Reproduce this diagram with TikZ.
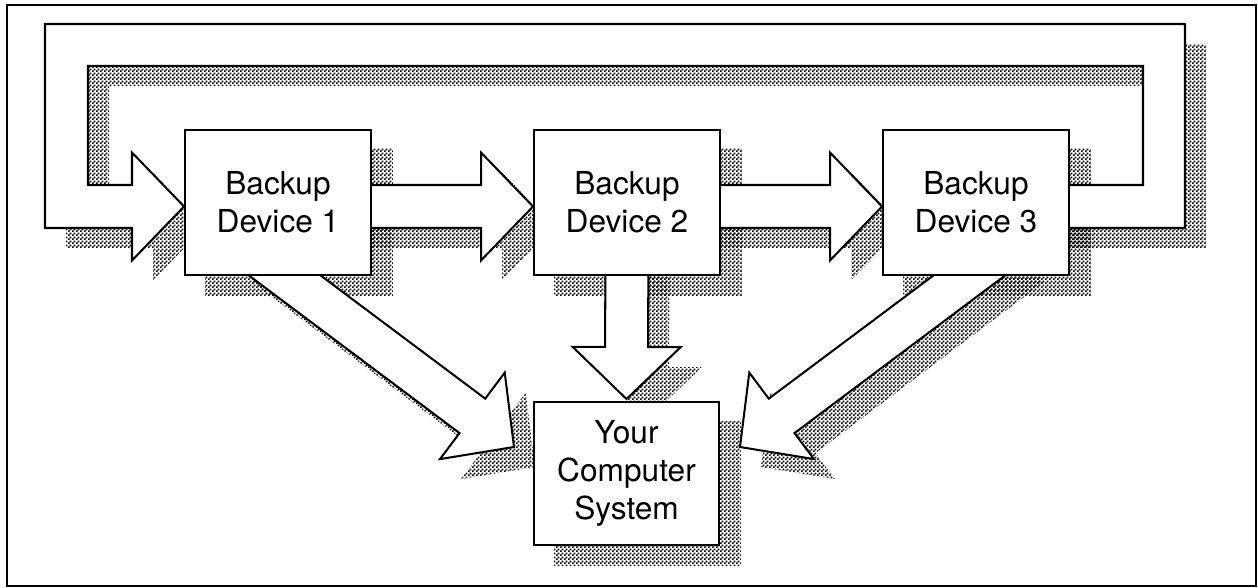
\documentclass[tikz,border=0pt]{standalone}
\usepackage{fontspec}
\setmainfont{TeX Gyre Heros}
\usetikzlibrary{calc,patterns}
\pgfdeclarepatternformonly{checkerdots}{\pgfqpoint{0pt}{0pt}}{\pgfqpoint{2.28pt}{2.28pt}}{\pgfqpoint{2.28pt}{2.28pt}}{%
  \pgfpathrectangle{\pgfqpoint{0pt}{0pt}}{\pgfqpoint{1.2pt}{1.2pt}}%
  \pgfpathrectangle{\pgfqpoint{1.14pt}{1.14pt}}{\pgfqpoint{1.2pt}{1.2pt}}%
  \pgfusepath{fill}}
\pgfdeclarelayer{bglayer}
\pgfdeclarelayer{shadowlayer}
\pgfdeclarelayer{arrowlayer}
\pgfsetlayers{bglayer,shadowlayer,arrowlayer,main}
\tikzset{
  devbox/.style={draw=black, fill=white, line width=1.15pt, minimum width=3.72cm,
    minimum height=2.9cm, align=center, inner sep=0pt,
    font=\fontsize{18}{21.5}\selectfont},
  shadowfill/.style={pattern=checkerdots, pattern color=black},
  blockshape/.style={draw=black, fill=white, line width=1.15pt, line join=miter},
  framestyle/.style={draw=black, line width=1.1pt},
}
\newcommand\withshadow[1]{%
  \begin{pgfonlayer}{shadowlayer}
    \begin{scope}[transform canvas={shift={(0.42cm,-0.4cm)}}]
      \fill[shadowfill] #1;
    \end{scope}
  \end{pgfonlayer}
  \begin{pgfonlayer}{arrowlayer}
    \path[blockshape] #1;
  \end{pgfonlayer}}
\newcommand\blockarrow[2]{%
  \coordinate (hb) at ($(#2)!1.04cm!(#1)$);
  \withshadow{($(#1)!0.43cm!90:(#2)$) -- ($(hb)!0.43cm!90:(#2)$) -- ($(hb)!1.08cm!90:(#2)$) -- (#2) -- ($(hb)!1.08cm!-90:(#2)$) -- ($(hb)!0.43cm!-90:(#2)$) -- ($(#1)!0.43cm!-90:(#2)$) -- cycle}}
\begin{document}
\begin{tikzpicture}[x=0.02cm, y=-0.02cm]
\useasboundingbox (0,0) rectangle (1258,588);
\begin{pgfonlayer}{bglayer}
  \fill[white] (0,0) rectangle (1258,588);
\end{pgfonlayer}
\draw[framestyle] (7,5) rectangle (1256,586);
% devices
\node[devbox] (b1) at (278,202.5) {Backup\\Device 1};
\node[devbox] (b2) at (627,202.5) {Backup\\Device 2};
\node[devbox] (b3) at (976,202.5) {Backup\\Device 3};
\node[devbox, minimum width=3.7cm, minimum height=2.86cm] (b4) at (626.5,473.5) {Your\\Computer\\System};
% box shadows
\begin{pgfonlayer}{shadowlayer}
  \begin{scope}[transform canvas={shift={(0.42cm,-0.4cm)}}]
    \foreach \b in {b1,b2,b3,b4} {\fill[shadowfill] (\b.north west) rectangle (\b.south east);}
  \end{scope}
\end{pgfonlayer}
% loop arrow from device 3 back to device 1
\coordinate (le) at ($(b3.east)+(0,4)$);
\coordinate (lw) at ($(b1.west)+(0,4)$);
\withshadow{($(b3.center)+(0,-17.5)$) -- ($(le)+(73,-21.5)$) -- ($(le)+(73,-140.5)$) -- ($(lw)+(-96,-140.5)$) -- ($(lw)+(-96,-21.5)$) -- ($(lw)+(-52,-21.5)$) -- ($(lw)+(-52,-54)$) -- (lw) -- ($(lw)+(-52,54)$) -- ($(lw)+(-52,21.5)$) -- ($(lw)+(-139,21.5)$) -- ($(lw)+(-139,-182.5)$) -- ($(le)+(115,-182.5)$) -- ($(le)+(115,21.5)$) -- ($(b3.center)+(0,25.5)$) -- cycle}
% horizontal arrows
\coordinate (s12) at ($(b1.center)+(0,4)$);
\coordinate (t12) at ($(b2.west)+(0,4)$);
\blockarrow{s12}{t12}
\coordinate (s23) at ($(b2.center)+(0,4)$);
\coordinate (t23) at ($(b3.west)+(0,4)$);
\blockarrow{s23}{t23}
% arrows to the computer
\coordinate (s14) at ($(b1.south)+(-34,-31)$);
\coordinate (t14) at ($(b4.west)+(-19,-26.5)$);
\blockarrow{s14}{t14}
\coordinate (s34) at ($(b3.south)+(34,-31)$);
\coordinate (t34) at ($(b4.east)+(20,-26.5)$);
\blockarrow{s34}{t34}
\coordinate (s24) at (b2.center);
\coordinate (t24) at ($(b4.north)+(0,-2)$);
\blockarrow{s24}{t24}
\end{tikzpicture}
\end{document}
